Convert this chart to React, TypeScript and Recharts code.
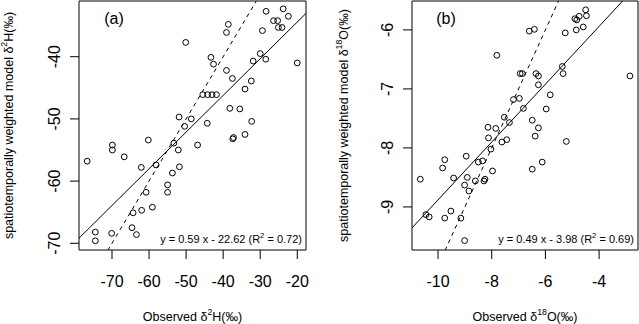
import { ScatterChart, Scatter, XAxis, YAxis, ReferenceLine, ReferenceArea } from "recharts";

const FONT = "'Liberation Sans', Arial, Helvetica, sans-serif";

// panel (a): delta 2H, observed vs modelled
const obsH = [
  -50.1, -38.6, -39.1, -43.3, -42.6, -39.1, -37.5, -45.5, -44.2, -43.0,
  -41.8, -38.2, -35.5, -51.9, -48.6, -50.4, -44.3, -32.3, -34.1, -37.4,
  -37.2, -53.3, -46.9, -52.1, -60.2, -69.9, -69.9, -66.7, -76.7, -62.1,
  -58.1, -51.8, -53.7, -55.0, -55.0, -60.8, -59.1, -62.0, -64.3, -64.6,
  -63.4, -74.5, -74.5, -70.1, -28.4, -23.8, -22.4, -26.4, -25.3, -25.1,
  -24.1, -29.4, -30.0, -28.5, -31.9, -20.0, -32.4, -34.1,
];
const modH = [
  -37.7, -34.8, -36.1, -40.1, -41.2, -42.2, -43.5, -46.1, -46.1, -46.1,
  -46.1, -48.3, -48.4, -49.7, -50.0, -51.2, -50.7, -50.4, -52.5, -53.2,
  -53.0, -53.9, -54.2, -55.0, -53.4, -54.2, -55.0, -56.1, -56.8, -57.8,
  -57.4, -57.7, -58.7, -60.6, -61.8, -61.8, -64.2, -64.7, -65.1, -67.5,
  -68.6, -68.2, -69.6, -68.4, -32.7, -32.3, -33.5, -34.2, -34.2, -35.3,
  -35.3, -35.8, -39.5, -40.4, -40.7, -41.0, -43.9, -45.2,
];

// panel (b): delta 18O
const obsO = [
  -7.81, -6.6, -6.41, -5.26, -4.85, -4.59, -4.9, -4.83, -4.74, -4.47,
  -4.5, -5.37, -5.34, -2.85, -6.94, -6.86, -6.35, -6.26, -6.26, -5.82,
  -7.19, -6.97, -5.97, -6.82, -7.53, -7.34, -6.49, -6.26, -6.38, -8.14,
  -7.85, -8.12, -7.62, -7.44, -5.22, -8.03, -8.95, -9.75, -9.83, -10.66,
  -9.42, -8.91, -8.5, -8.34, -7.97, -8.61, -8.29, -8.25, -9.01, -8.85,
  -6.49, -6.12, -10.45, -10.33, -9.52, -9.75, -9.15, -9.01,
];
const modO = [
  -6.43, -6.02, -5.99, -6.05, -6.0, -5.95, -5.81, -5.83, -5.77, -5.76,
  -5.66, -6.62, -6.74, -6.78, -6.74, -6.74, -6.74, -6.78, -6.93, -7.1,
  -7.18, -7.16, -7.34, -7.33, -7.48, -7.57, -7.53, -7.66, -7.8, -7.65,
  -7.67, -7.83, -7.9, -7.86, -7.89, -8.02, -8.14, -8.2, -8.34, -8.53,
  -8.51, -8.5, -8.24, -8.22, -8.39, -8.56, -8.56, -8.53, -8.63, -8.73,
  -8.36, -8.24, -9.13, -9.17, -9.07, -9.19, -9.19, -9.57,
];

const xTicksH = [-70, -60, -50, -40, -30, -20];
const yTicksH = [-70, -60, -50, -40];
const xTicksO = [-10, -8, -6, -4];
const yTicksO = [-9, -8, -7, -6];

const xDomH: [number, number] = [-78.91, -17.64];
const yDomH: [number, number] = [-71.08, -31.04];
const xDomO: [number, number] = [-10.97, -2.55];
const yDomO: [number, number] = [-9.73, -5.51];

// fitted lines: y = slope * x + intercept
const fitH = { slope: 0.59, intercept: -22.62 };
const fitO = { slope: 0.49, intercept: -3.98 };

const toPoints = (xs: number[], ys: number[]) => xs.map((x, i) => ({ x, y: ys[i] }));

const Ring = (props: any) => (
  <circle cx={props.cx} cy={props.cy} r={2.9} fill="none" stroke="#000" strokeWidth={1} />
);

const XTick = (props: any) => (
  <text x={props.x} y={props.y + 26} textAnchor="middle" fontSize={16} fontFamily={FONT} fill="#000">
    {props.payload.value}
  </text>
);

const YTick = (props: any) => {
  const x = props.x - 8;
  return (
    <text
      x={x}
      y={props.y}
      transform={`rotate(-90, ${x}, ${props.y})`}
      textAnchor="middle"
      fontSize={16}
      fontFamily={FONT}
      fill="#000"
    >
      {props.payload.value}
    </text>
  );
};

interface PanelProps {
  obs: number[];
  mod: number[];
  xDom: [number, number];
  yDom: [number, number];
  xTicks: number[];
  yTicks: number[];
  fit: { slope: number; intercept: number };
  width: number;
  yAxisWidth: number;
  right: number;
}

const Panel = ({ obs, mod, xDom, yDom, xTicks, yTicks, fit, width, yAxisWidth, right }: PanelProps) => {
  const data = toPoints(obs, mod);
  const [x0, x1] = xDom;
  return (
    <ScatterChart width={width} height={324} margin={{ top: 1, right, bottom: 0, left: 0 }}>
      <XAxis
        type="number"
        dataKey="x"
        domain={xDom}
        allowDataOverflow
        ticks={xTicks}
        interval={0}
        height={74}
        tickSize={9}
        axisLine={false}
        tickLine={{ stroke: "#000" }}
        tick={<XTick />}
      />
      <YAxis
        type="number"
        dataKey="y"
        domain={yDom}
        allowDataOverflow
        ticks={yTicks}
        interval={0}
        width={yAxisWidth}
        tickSize={9}
        axisLine={false}
        tickLine={{ stroke: "#000" }}
        tick={<YTick />}
      />
      <ReferenceLine
        segment={[{ x: x0, y: x0 }, { x: x1, y: x1 }]}
        stroke="#000"
        strokeDasharray="4 4"
        ifOverflow="hidden"
      />
      <ReferenceLine
        segment={[
          { x: x0, y: fit.slope * x0 + fit.intercept },
          { x: x1, y: fit.slope * x1 + fit.intercept },
        ]}
        stroke="#000"
        ifOverflow="hidden"
      />
      <Scatter data={data} shape={<Ring />} isAnimationActive={false} />
      <ReferenceArea
        x1={x0}
        x2={x1}
        y1={yDom[0]}
        y2={yDom[1]}
        fill="none"
        stroke="#000"
        strokeWidth={1}
        ifOverflow="visible"
      />
    </ScatterChart>
  );
};

// text with a raised part: before + sup + after
const SupText = ({ before, sup, after, size }: { before: string; sup: string; after: string; size: number }) => (
  <>
    {before}
    <tspan fontSize={size * 0.7} dy={-size * 0.42}>{sup}</tspan>
    <tspan dy={size * 0.42}>{after}</tspan>
  </>
);

export default function App() {
  return (
    <div style={{ position: "absolute", left: 0, top: 0, width: 639, height: 324, background: "#fff" }}>
      <div style={{ position: "absolute", left: 0, top: 0 }}>
        <Panel obs={obsH} mod={modH} xDom={xDomH} yDom={yDomH} xTicks={xTicksH} yTicks={yTicksH}
          fit={fitH} width={320} yAxisWidth={79} right={14} />
      </div>
      <div style={{ position: "absolute", left: 320, top: 0 }}>
        <Panel obs={obsO} mod={modO} xDom={xDomO} yDom={yDomO} xTicks={xTicksO} yTicks={yTicksO}
          fit={fitO} width={319} yAxisWidth={92} right={1} />
      </div>
      <svg width={639} height={324} style={{ position: "absolute", left: 0, top: 0, pointerEvents: "none" }}
        fontFamily={FONT} fill="#000">
        <text x={114} y={23.5} fontSize={16} textAnchor="middle">(a)</text>
        <text x={446} y={23.5} fontSize={16} textAnchor="middle">(b)</text>

        <text x={302} y={243} fontSize={11} textAnchor="end">
          <SupText before="y = 0.59 x - 22.62 (R" sup="2" after=" = 0.72)" size={11} />
        </text>
        <text x={634} y={243} fontSize={11} textAnchor="end">
          <SupText before="y = 0.49 x - 3.98 (R" sup="2" after=" = 0.69)" size={11} />
        </text>

        <text x={192.5} y={320.5} fontSize={12.5} textAnchor="middle">
          <SupText before="Observed δ" sup="2" after="H(‰)" size={12.5} />
        </text>
        <text x={525} y={320.5} fontSize={12.5} textAnchor="middle">
          <SupText before="Observed δ" sup="18" after="O(‰)" size={12.5} />
        </text>

        <text x={12.5} y={125.5} fontSize={12.5} textAnchor="middle" transform="rotate(-90, 12.5, 125.5)">
          <SupText before="spatiotemporally weighted model δ" sup="2" after="H(‰)" size={12.5} />
        </text>
        <text x={347.5} y={125.5} fontSize={12.5} textAnchor="middle" transform="rotate(-90, 347.5, 125.5)">
          <SupText before="spatiotemporally weighted model δ" sup="18" after="O(‰)" size={12.5} />
        </text>
      </svg>
    </div>
  );
}
